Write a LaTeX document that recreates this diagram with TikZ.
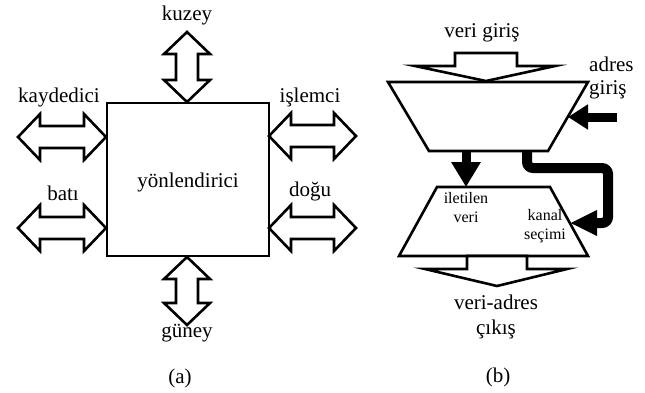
\documentclass[tikz,border=0pt]{standalone}
\usepackage{fontspec}
\setmainfont{Liberation Serif}
\usetikzlibrary{arrows.meta}
\tikzset{
  outl/.style={draw=black, fill=white, line width=2.6pt, line join=miter},
  lbl/.style={inner sep=0pt, font=\fontsize{21}{23}\selectfont},
  small/.style={inner sep=0pt, font=\fontsize{16}{19}\selectfont, align=center},
  blk/.style={draw=black, line width=9pt},
}
\newcommand\hdbl[3]{\draw[outl] (#1,#3) -- ({#1+22},{#3-23}) -- ({#1+22},{#3-11}) -- ({#2-22},{#3-11}) -- ({#2-22},{#3-23}) -- (#2,#3) -- ({#2-22},{#3+23}) -- ({#2-22},{#3+11}) -- ({#1+22},{#3+11}) -- ({#1+22},{#3+23}) -- cycle;}
\newcommand\vdbl[3]{\draw[outl] (#3,#1) -- ({#3-23},{#1+22}) -- ({#3-11},{#1+22}) -- ({#3-11},{#2-22}) -- ({#3-23},{#2-22}) -- (#3,#2) -- ({#3+23},{#2-22}) -- ({#3+11},{#2-22}) -- ({#3+11},{#1+22}) -- ({#3+23},{#1+22}) -- cycle;}
\begin{document}
\begin{tikzpicture}[x=1pt,y=-1pt]
\useasboundingbox (0,0) rectangle (645,392);
% (a)
\node[draw, line width=2.6pt, minimum width=162pt, minimum height=153pt, inner sep=0pt] (router) at (188,179.5) {};
\node[lbl] (yon) at (188,182) {yönlendirici};
\vdbl{32}{102}{187}
\vdbl{257}{325}{187}
\hdbl{18}{106}{137}
\hdbl{18}{106}{228}
\hdbl{269}{356}{136}
\hdbl{269}{356}{228}
\node[lbl] (kuzey) at (187,15) {kuzey};
\node[lbl] (kayd) at (59,97) {kaydedici};
\node[lbl] (bati) at (63,193) {batı};
\node[lbl] (isl) at (310,97) {işlemci};
\node[lbl] (dogu) at (310,191) {doğu};
\node[lbl] (guney) at (187,333) {güney};
\node[lbl] (capa) at (180,378) {(a)};
% (b)
\coordinate (ua) at (388,82); \coordinate (ub) at (588,82);
\coordinate (uc) at (548,151); \coordinate (ud) at (429,151);
\draw[outl] (ua) -- (ub) -- (uc) -- (ud) -- cycle;
\coordinate (la) at (437,187); \coordinate (lb) at (550,187);
\coordinate (lc) at (588,256); \coordinate (ld) at (399,256);
\draw[outl] (la) -- (lb) -- (lc) -- (ld) -- cycle;
% input arrow
\draw[outl] (455,53) -- (517,53) -- (517,66) -- (555,66) -- (486,81) -- (415,66) -- (455,66) -- cycle;
% output arrow
\draw[outl] (467,256) -- (527,256) -- (527,269) -- (567,269) -- (497,286) -- (425,269) -- (467,269) -- cycle;
% black arrows
\coordinate (adrs) at (617,117); \coordinate (adrt) at (568,117);
\draw[blk, -{Triangle[length=20pt,width=24pt]}] (adrs) -- (adrt);
\coordinate (dns) at (466,151); \coordinate (dnt) at (466,187);
\draw[blk, -{Triangle[length=25pt,width=28pt]}] (dns) -- (dnt);
\coordinate (ws) at (527,151); \coordinate (wt) at (570,223);
\draw[draw=black, line width=10pt, rounded corners=6pt, -{Triangle[length=27pt,width=24pt]}] (ws) -- (527,168) -- (608,168) -- (608,223) -- (wt);
% labels
\node[lbl] (vg) at (482,33) {veri giriş};
\node[lbl, anchor=west, align=left] (ag) at (589,78) {adres\\giriş};
\node[small] (il) at (466,208) {iletilen\\veri};
\node[small] (ks) at (545,226) {kanal\\seçimi};
\node[lbl, align=center, font=\fontsize{21}{25}\selectfont] (vac) at (496,317) {veri-adres\\çıkış};
\node[lbl] (capb) at (498,377) {(b)};
\end{tikzpicture}
\end{document}
